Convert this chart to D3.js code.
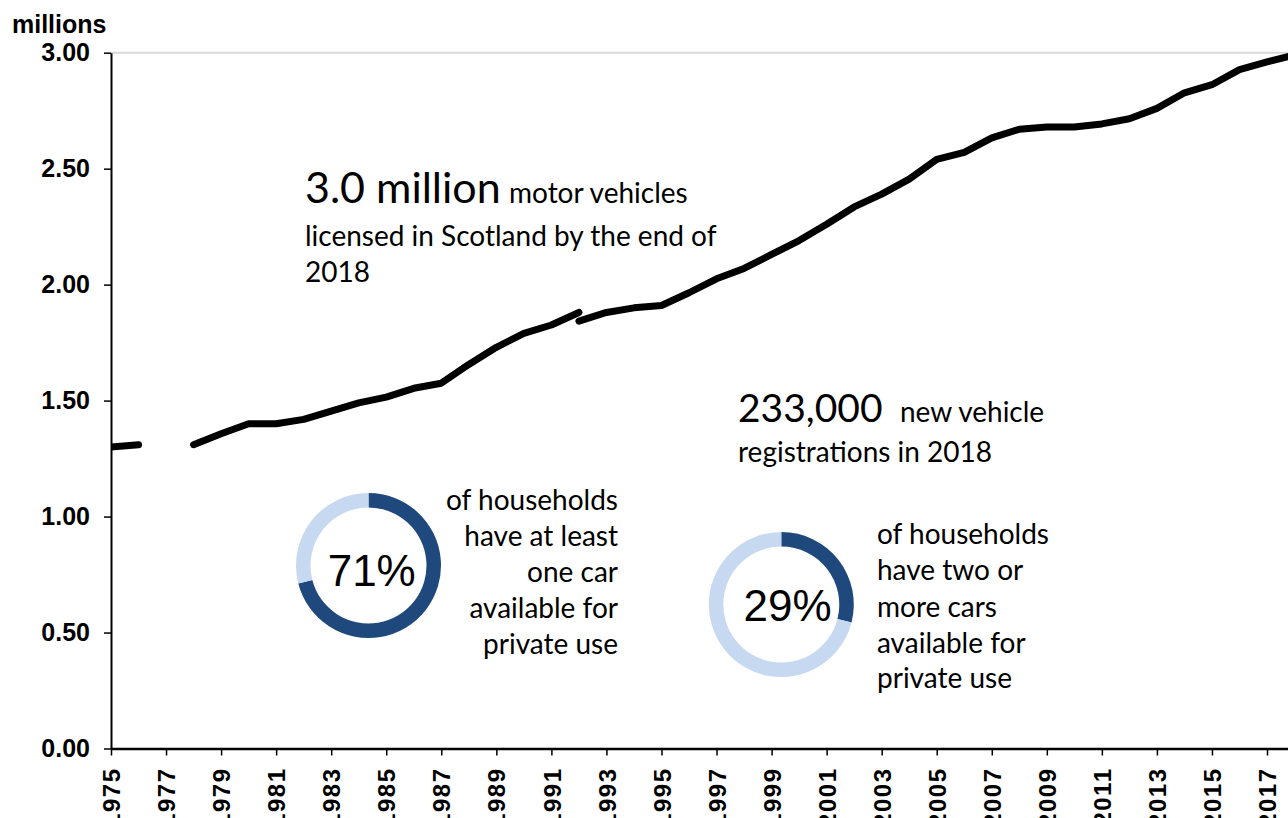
<!DOCTYPE html>
<html>
<head>
<meta charset="utf-8">
<script src="https://cdn.jsdelivr.net/npm/d3@7"></script>
<style>
  body { margin: 0; background: #fff; }
  svg { display: block; }
</style>
</head>
<body>
<div id="chart"></div>
<script>
// licensed vehicles, millions (old series up to 1992, new series from 1992)
const yearsOld = [1975, 1976, 1977, 1978, 1979, 1980, 1981, 1982, 1983, 1984, 1985, 1986, 1987, 1988, 1989, 1990, 1991, 1992];
const valuesOld = [1.30, 1.31, null, 1.31, 1.357, 1.40, 1.40, 1.419, 1.455, 1.49, 1.515, 1.553, 1.575, 1.656, 1.73, 1.79, 1.826, 1.88];
const yearsNew = [1992, 1993, 1994, 1995, 1996, 1997, 1998, 1999, 2000, 2001, 2002, 2003, 2004, 2005, 2006, 2007, 2008, 2009, 2010, 2011, 2012, 2013, 2014, 2015, 2016, 2017, 2018];
const valuesNew = [1.843, 1.88, 1.90, 1.91, 1.965, 2.025, 2.07, 2.13, 2.19, 2.26, 2.335, 2.39, 2.455, 2.54, 2.57, 2.633, 2.67, 2.68, 2.68, 2.693, 2.715, 2.76, 2.827, 2.862, 2.927, 2.96, 2.99];

const yTicks = [0, 0.5, 1.0, 1.5, 2.0, 2.5, 3.0];
const xTickYears = [1975, 1977, 1979, 1981, 1983, 1985, 1987, 1989, 1991, 1993, 1995, 1997, 1999, 2001, 2003, 2005, 2007, 2009, 2011, 2013, 2015, 2017];

// household car shares (%)
const donutShares = [71, 29];
const donutLabels = [
  ["of households", "have at least", "one car", "available for", "private use"],
  ["of households", "have two or", "more cars", "available for", "private use"]
];

const width = 1288, height = 818;
const left = 111;

const svg = d3.select("#chart")
  .append("svg")
  .attr("width", width)
  .attr("height", height);

const x = d3.scaleLinear()
  .domain([1975, 2018])
  .range([left, left + 43 * 27.524]);

const y = d3.scaleLinear()
  .domain([0, 3])
  .range([748.5, 52.7]);

// top border line
svg.append("line")
  .attr("x1", left).attr("x2", width)
  .attr("y1", y(3)).attr("y2", y(3))
  .style("stroke", "#d9d9d9")
  .style("stroke-width", 2);

svg.append("clipPath")
  .attr("id", "plot-clip")
  .append("rect")
  .attr("x", left).attr("y", 0)
  .attr("width", width - left).attr("height", height);

const line = d3.line()
  .defined(d => d.v != null)
  .x(d => x(d.year))
  .y(d => y(d.v));

const seriesOld = yearsOld.map((yr, i) => ({year: yr, v: valuesOld[i]}));
const seriesNew = yearsNew.map((yr, i) => ({year: yr, v: valuesNew[i]}));

svg.append("g")
  .attr("clip-path", "url(#plot-clip)")
  .selectAll("path")
  .data([seriesOld, seriesNew])
  .join("path")
  .attr("d", line)
  .style("fill", "none")
  .style("stroke", "#000")
  .style("stroke-width", 7)
  .style("stroke-linecap", "round")
  .style("stroke-linejoin", "round");

// y axis
const yAxis = svg.append("g")
  .attr("transform", "translate(" + left + ",0)")
  .call(d3.axisLeft(y)
    .tickValues(yTicks)
    .tickFormat(d3.format(".2f"))
    .tickSize(7)
    .tickSizeOuter(0)
    .tickPadding(14));
yAxis.select(".domain").style("stroke", "#000").style("stroke-width", 2);
yAxis.selectAll(".tick line").style("stroke", "#000").style("stroke-width", 1.5);
yAxis.selectAll("text")
  .style("font-family", "'Liberation Sans', Arial, sans-serif")
  .style("font-weight", "bold")
  .style("font-size", "25px")
  .style("fill", "#000");

// x axis
const xAxis = svg.append("g")
  .attr("transform", "translate(0," + y(0) + ")")
  .call(d3.axisBottom(x)
    .tickValues(xTickYears)
    .tickFormat(d3.format("d"))
    .tickSize(7)
    .tickSizeOuter(0));
xAxis.select(".domain").style("stroke", "#000").style("stroke-width", 2.5);
xAxis.selectAll(".tick line").style("stroke", "#000").style("stroke-width", 1.5);
xAxis.selectAll("text")
  .attr("transform", "rotate(-90)")
  .attr("x", -19)
  .attr("y", 0)
  .attr("dy", "0.36em")
  .attr("text-anchor", "end")
  .style("font-family", "'Liberation Sans', Arial, sans-serif")
  .style("font-weight", "bold")
  .style("font-size", "24px")
  .style("letter-spacing", "1.5px")
  .style("fill", "#000");

// unit label
svg.append("text")
  .attr("x", 12)
  .attr("y", 33)
  .style("font-family", "'Liberation Sans', Arial, sans-serif")
  .style("font-weight", "bold")
  .style("font-size", "25px")
  .text("millions");

// headline annotations
const note = "Lato, 'Open Sans', sans-serif";
function addText(tx, ty, size, str, anchor) {
  svg.append("text")
    .attr("x", tx)
    .attr("y", ty)
    .attr("text-anchor", anchor || "start")
    .style("font-family", note)
    .style("font-size", size + "px")
    .style("fill", "#000")
    .text(str);
}
addText(305, 203, 43, "3.0 million");
addText(509, 203, 28, "motor vehicles");
addText(305, 246, 28, "licensed in Scotland by the end of");
addText(305, 282, 28, "2018");
addText(738, 422, 39, "233,000");
addText(900, 422, 28, "new vehicle");
addText(738, 462, 28, "registrations in 2018");

// donuts
const donutCentres = [[368.5, 565.5], [781.3, 604.5]];
const pctPos = [[371.7, 586], [787.5, 621]];
const pie = d3.pie().sort(null).value(d => d);
const arc = d3.arc().innerRadius(58).outerRadius(72.5);
const ringColours = ["#1f497d", "#c6d9f1"];

donutShares.forEach((share, i) => {
  const g = svg.append("g")
    .attr("transform", "translate(" + donutCentres[i][0] + "," + donutCentres[i][1] + ")");
  g.selectAll("path")
    .data(pie([share, 100 - share]))
    .join("path")
    .attr("d", arc)
    .style("fill", (d, j) => ringColours[j]);

  svg.append("text")
    .attr("x", pctPos[i][0])
    .attr("y", pctPos[i][1])
    .attr("text-anchor", "middle")
    .style("font-family", "'Liberation Sans', Arial, sans-serif")
    .style("font-size", "44px")
    .text(share + "%");
});

const labelBase = [[510, 546, 582, 618, 654], [544, 580, 617, 653, 688]];
donutLabels[0].forEach((s, j) => addText(618, labelBase[0][j], 28, s, "end"));
donutLabels[1].forEach((s, j) => addText(877, labelBase[1][j], 28, s, "start"));
</script>
</body>
</html>
